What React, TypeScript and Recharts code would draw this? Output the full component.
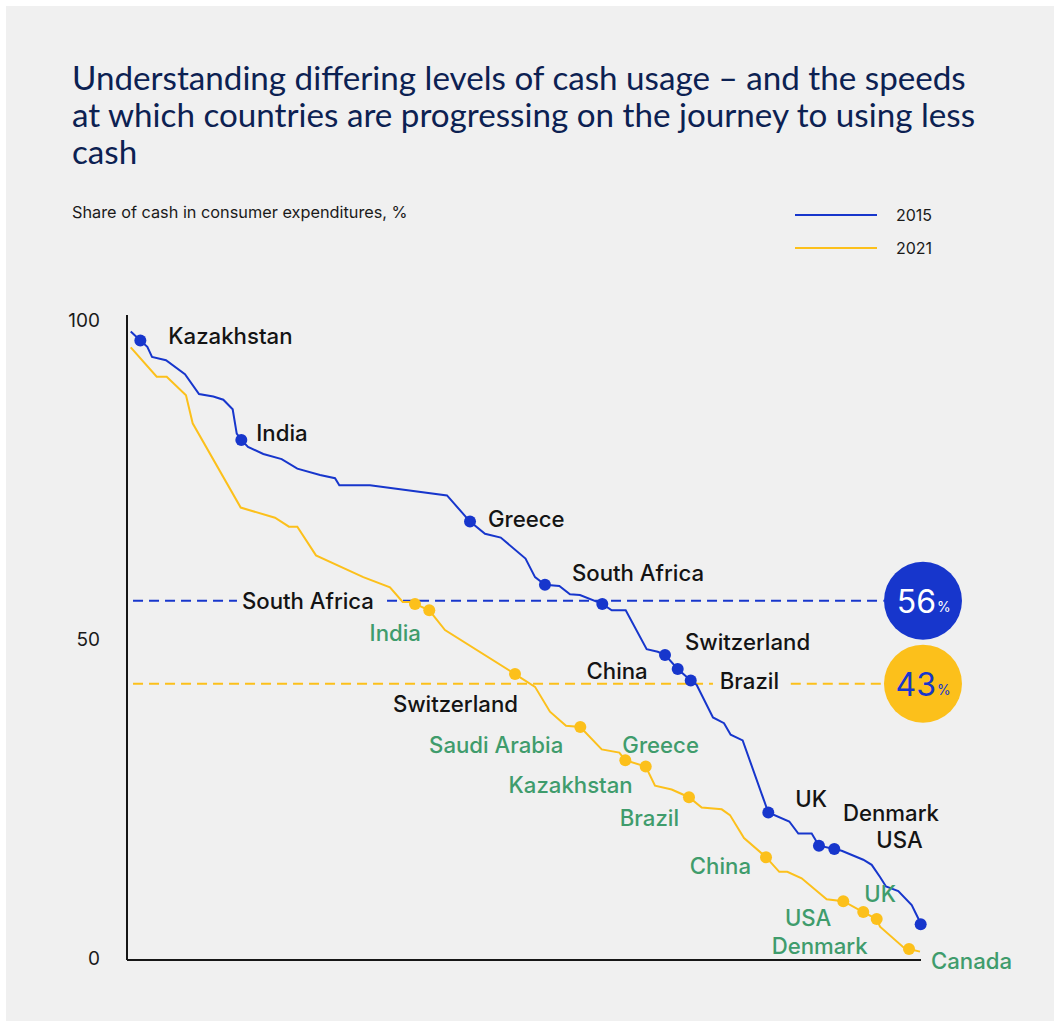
import React from 'react';
import { LineChart, Line, XAxis, YAxis, ReferenceLine, ReferenceDot } from 'recharts';

// ---- data ----
const rank2015 = [0.47, 1.68, 2.56, 3.15, 4.91, 7.3, 9.07, 10.87, 12.13, 13.31, 13.82, 14.4, 15.24, 17.17, 19.48, 21.45, 24.31, 26.2, 26.74, 30.6, 40.3, 43.2, 45.09, 47.07, 50.19, 51.39, 52.64, 54.45, 55.79, 57.05, 59.86, 61.05, 62.81, 65.45, 66.84, 67.76, 69.36, 71.0, 71.75, 73.8, 75.19, 76.03, 77.54, 80.77, 83.41, 84.55, 86.23, 87.15, 89.08, 90.01, 92.73, 93.79, 94.84, 95.59, 97.14, 98.83, 99.66, 99.96];
const share2015 = [98.2, 96.8, 95.8, 94.2, 93.7, 91.5, 88.4, 88.0, 87.5, 86.0, 82.2, 81.2, 80.1, 79.0, 78.2, 76.7, 75.7, 75.2, 74.1, 74.1, 72.5, 68.4, 66.5, 65.9, 62.6, 59.7, 58.5, 58.3, 57.0, 56.9, 55.5, 54.5, 54.5, 48.4, 48.0, 47.5, 45.3, 43.5, 42.8, 37.7, 36.8, 35.0, 34.1, 22.8, 21.4, 19.5, 19.5, 17.6, 17.1, 16.8, 15.4, 14.6, 12.7, 11.2, 10.5, 8.3, 6.2, 5.3];
const rank2021 = [0.47, 3.74, 5.0, 7.43, 8.27, 14.32, 18.64, 20.4, 21.45, 23.8, 29.76, 33.12, 34.72, 35.64, 36.27, 38.07, 40.05, 48.87, 51.39, 53.27, 55.29, 57.09, 59.79, 62.0, 62.76, 65.33, 66.5, 68.6, 70.78, 72.38, 74.9, 75.94, 77.71, 80.48, 82.15, 83.16, 84.97, 88.12, 90.21, 92.73, 94.42, 94.84, 97.77, 98.49, 99.87];
const share2021 = [95.7, 91.1, 91.1, 88.2, 83.8, 70.6, 69.0, 67.6, 67.6, 63.1, 59.7, 58.1, 55.8, 55.8, 55.5, 54.5, 51.4, 44.5, 42.5, 38.6, 36.4, 36.2, 32.7, 32.2, 31.0, 30.0, 27.0, 26.4, 25.2, 23.6, 23.3, 22.4, 18.8, 15.8, 13.5, 13.5, 12.5, 9.2, 8.9, 7.2, 6.1, 4.9, 1.7, 1.4, 1.0];

const dotIndex2015 = [1, 11, 21, 26, 30, 35, 36, 37, 43, 47, 48, 57];
const dotLabel2015 = ['Kazakhstan', 'India', 'Greece', 'South Africa', '', 'Switzerland', 'China', 'Brazil', 'UK', 'Denmark', 'USA', ''];
const dotIndex2021 = [14, 15, 17, 21, 24, 25, 28, 33, 38, 39, 40, 43];
const dotLabel2021 = ['South Africa', 'India', 'Switzerland', 'Saudi Arabia', 'Greece', 'Kazakhstan', 'Brazil', 'China', 'USA', 'UK', 'Denmark', 'Canada'];

const averageShares = [56, 43];
const years = ['2015', '2021'];
const yTicks = [0, 50, 100];
const dashSegments2015 = [[0.76, 13.85], [32.75, 95.3]];
const dashSegments2021 = [[0.76, 73.8], [83.6, 95.3]];

const TITLE_LINES = [
  'Understanding differing levels of cash usage – and the speeds',
  'at which countries are progressing on the journey to using less',
  'cash',
];
const SUBTITLE = 'Share of cash in consumer expenditures, %';

// ---- styles ----
const BLUE = '#1736cc';
const YELLOW = '#fcc01b';
const GREEN = '#3f9c6c';
const BLACK = '#141414';
const PANEL = '#f0f0f0';
const FONT = 'Inter, "Noto Sans", sans-serif';

type Lay = { dx: number; dy: number; anchor: 'start' | 'middle' | 'end'; color: string };
const layout2015: Record<string, Lay> = {
  Kazakhstan: { dx: 28, dy: -5, anchor: 'start', color: BLACK },
  India: { dx: 15, dy: -7, anchor: 'start', color: BLACK },
  Greece: { dx: 18, dy: -3, anchor: 'start', color: BLACK },
  'South Africa': { dx: 27, dy: -12, anchor: 'start', color: BLACK },
  Switzerland: { dx: 20, dy: -13, anchor: 'start', color: BLACK },
  China: { dx: -30, dy: 2, anchor: 'end', color: BLACK },
  Brazil: { dx: 29, dy: 0, anchor: 'start', color: BLACK },
  UK: { dx: 27, dy: -14, anchor: 'start', color: BLACK },
  Denmark: { dx: 24, dy: -33, anchor: 'start', color: BLACK },
  USA: { dx: 42, dy: -9, anchor: 'start', color: BLACK },
};
const layout2021: Record<string, Lay> = {
  'South Africa': { dx: -41, dy: -3, anchor: 'end', color: BLACK },
  India: { dx: -34, dy: 22, anchor: 'middle', color: GREEN },
  Switzerland: { dx: 3, dy: 29, anchor: 'end', color: BLACK },
  'Saudi Arabia': { dx: -17, dy: 17, anchor: 'end', color: GREEN },
  Greece: { dx: -3, dy: -16, anchor: 'start', color: GREEN },
  Kazakhstan: { dx: -13, dy: 18, anchor: 'end', color: GREEN },
  Brazil: { dx: -10, dy: 20, anchor: 'end', color: GREEN },
  China: { dx: -15, dy: 8, anchor: 'end', color: GREEN },
  USA: { dx: -12, dy: 16, anchor: 'end', color: GREEN },
  UK: { dx: 1, dy: -19, anchor: 'start', color: GREEN },
  Denmark: { dx: -9, dy: 26, anchor: 'end', color: GREEN },
  Canada: { dx: 22, dy: 11, anchor: 'start', color: GREEN },
};

const data2015 = rank2015.map((r, i) => ({ rank: r, share: share2015[i] }));
const data2021 = rank2021.map((r, i) => ({ rank: r, share: share2021[i] }));

const makeDot = (idx: number[], labels: string[], layout: Record<string, Lay>, color: string) => (p: any) => {
  const { cx, cy, index } = p;
  const k = idx.indexOf(index);
  if (k < 0 || cx == null || cy == null) return <g key={`n-${index}`} />;
  const name = labels[k];
  const L = name ? layout[name] : undefined;
  return (
    <g key={`d-${index}`}>
      <circle cx={cx} cy={cy} r={6} fill={color} />
      {L && (
        <text
          x={cx + L.dx}
          y={cy + L.dy}
          textAnchor={L.anchor}
          dominantBaseline="central"
          fontFamily={FONT}
          fontSize={22.2}
          fontWeight={500}
          fill={L.color}
        >
          {name}
        </text>
      )}
    </g>
  );
};

const bubble = (fill: string, textFill: string, value: number) => (p: any) => (
  <g>
    <circle cx={p.cx} cy={p.cy} r={39} fill={fill} />
    <text x={p.cx + 13} y={p.cy + 1} textAnchor="end" dominantBaseline="central" fontFamily={FONT} fontSize={32} fill={textFill}>
      {value}
    </text>
    <text x={p.cx + 14} y={p.cy + 6} textAnchor="start" dominantBaseline="central" fontFamily={FONT} fontSize={14} fill={textFill}>
      %
    </text>
  </g>
);

export default function App() {
  return (
    <div style={{ position: 'absolute', left: 0, top: 0, width: 1054, height: 1021, background: '#fff', overflow: 'hidden' }}>
      <div style={{ position: 'absolute', left: 6, top: 6, right: 0, bottom: 0, background: PANEL }} />
      <div style={{ position: 'absolute', left: 72, top: 59, fontFamily: 'Lato, sans-serif', fontSize: 33.2, lineHeight: '37px', color: '#0c2152', whiteSpace: 'nowrap' }}>
        {TITLE_LINES.map((l) => (
          <div key={l}>{l}</div>
        ))}
      </div>
      <div style={{ position: 'absolute', left: 72, top: 202, fontFamily: FONT, fontSize: 16.3, lineHeight: '20px', color: '#1a1a1a', whiteSpace: 'nowrap' }}>
        {SUBTITLE}
      </div>
      <svg style={{ position: 'absolute', left: 0, top: 0 }} width={1054} height={300}>
        {years.map((y, i) => (
          <g key={y}>
            <line x1={795} x2={877} y1={215 + i * 33} y2={215 + i * 33} stroke={i === 0 ? BLUE : YELLOW} strokeWidth={2} />
            <text x={896} y={215 + i * 33} dominantBaseline="central" fontFamily={FONT} fontSize={16} fill="#1a1a1a">
              {y}
            </text>
          </g>
        ))}
      </svg>
      <div style={{ position: 'absolute', left: 0, top: 0 }}>
        <LineChart width={1054} height={1021} margin={{ top: 315, right: 133, bottom: 60, left: 0 }}>
          <XAxis
            type="number"
            dataKey="rank"
            domain={[0, 100]}
            height={1}
            tick={false}
            tickLine={false}
            axisLine={{ stroke: '#161616', strokeWidth: 2 }}
          />
          <YAxis
            type="number"
            dataKey="share"
            domain={[-0.313, 100.78]}
            ticks={yTicks}
            width={127}
            tickLine={false}
            tickSize={0}
            tickMargin={27}
            axisLine={{ stroke: '#161616', strokeWidth: 2 }}
            tick={{ fontFamily: FONT, fontSize: 19, fill: '#1a1a1a' }}
          />
          {dashSegments2015.map((s, i) => (
            <ReferenceLine
              key={`b${i}`}
              segment={[{ x: s[0], y: averageShares[0] }, { x: s[1], y: averageShares[0] }]}
              stroke={BLUE}
              strokeWidth={2}
              strokeDasharray="10 6"
              ifOverflow="visible"
            />
          ))}
          {dashSegments2021.map((s, i) => (
            <ReferenceLine
              key={`y${i}`}
              segment={[{ x: s[0], y: averageShares[1] }, { x: s[1], y: averageShares[1] }]}
              stroke={YELLOW}
              strokeWidth={2}
              strokeDasharray="10 6"
              ifOverflow="visible"
            />
          ))}
          <Line
            data={data2021}
            dataKey="share"
            type="linear"
            stroke={YELLOW}
            strokeWidth={2}
            dot={makeDot(dotIndex2021, dotLabel2021, layout2021, YELLOW)}
            activeDot={false}
            isAnimationActive={false}
          />
          <Line
            data={data2015}
            dataKey="share"
            type="linear"
            stroke={BLUE}
            strokeWidth={2}
            dot={makeDot(dotIndex2015, dotLabel2015, layout2015, BLUE)}
            activeDot={false}
            isAnimationActive={false}
          />
          <ReferenceDot x={100.25} y={averageShares[0]} r={39} ifOverflow="visible" shape={bubble(BLUE, '#ffffff', averageShares[0])} />
          <ReferenceDot x={100.25} y={averageShares[1]} r={39} ifOverflow="visible" shape={bubble(YELLOW, BLUE, averageShares[1])} />
        </LineChart>
      </div>
    </div>
  );
}
